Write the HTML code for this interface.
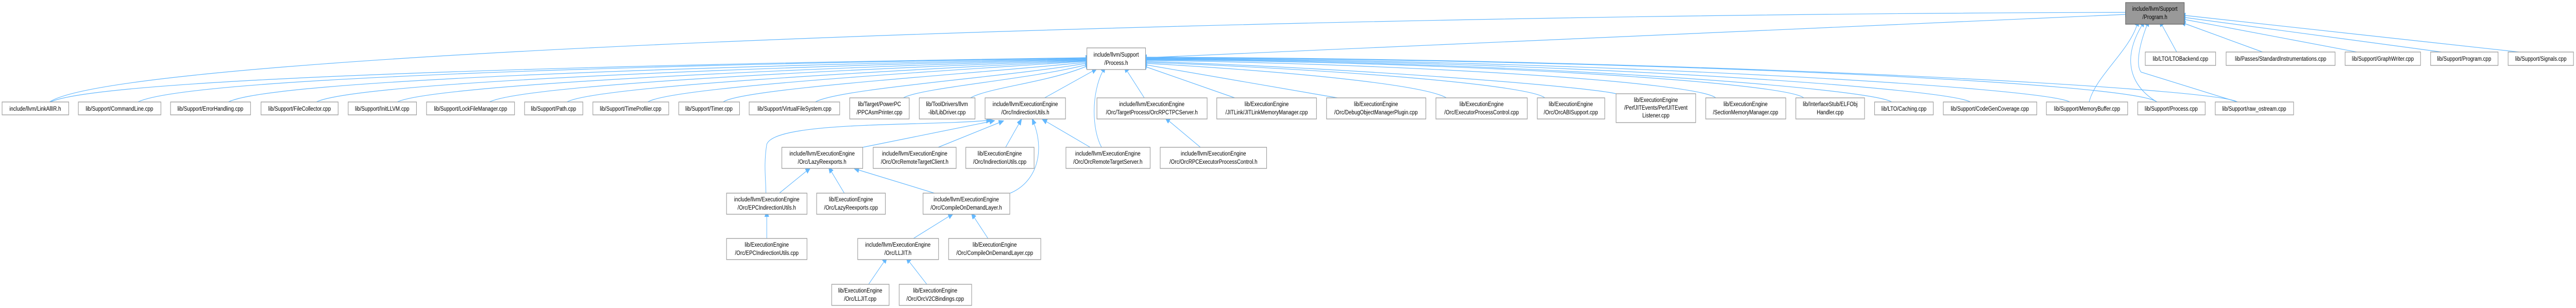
<!DOCTYPE html>
<html><head><meta charset="utf-8"><style>
html,body{margin:0;padding:0;background:#fff;width:100%;height:100%;overflow:hidden;}
svg{display:block;width:100vw;height:100vh;}
text{font-family:"Liberation Sans",Arial,sans-serif;font-size:12px;fill:#000;}
.n{fill:#fff;stroke:#999;stroke-width:1.3;}
.e{fill:none;stroke:#63b8ff;stroke-width:1.2;marker-start:url(#a);}
</style></head><body>
<svg viewBox="0 0 6148 598" preserveAspectRatio="none" xmlns="http://www.w3.org/2000/svg">
<defs><marker id="a" markerUnits="userSpaceOnUse" markerWidth="14" markerHeight="12" refX="1" refY="5" orient="auto-start-reverse"><path d="M0,0 L12,5 L0,10 Z" fill="#63b8ff" stroke="#63b8ff"/></marker></defs>

<path class="e" d="M5073,28 L2736,112"/>
<path class="e" d="M5073,24 C3000,28 300,100 118,198"/>
<path class="e" d="M5100,49 C5080,100 5000,150 4986,198"/>
<path class="e" d="M5112,49 C5060,120 5090,170 5148,198"/>
<path class="e" d="M5124,49 C5100,100 5100,130 5110,140 L5340,198"/>
<path class="e" d="M5160,49 L5195,101"/>
<path class="e" d="M5215,46 L5400,101"/>
<path class="e" d="M5215,38 L5625,101"/>
<path class="e" d="M5215,34 L5827,101"/>
<path class="e" d="M5215,30 L6012,101"/>

<path class="e" d="M2592,112 C1500,125 250,150 120,198"/>
<path class="e" d="M2592,113 C1600,125 450,150 329,198"/>
<path class="e" d="M2592,114 C1700,128 650,155 545,198"/>
<path class="e" d="M2592,115 C1800,130 850,160 755,198"/>
<path class="e" d="M2592,116 C1900,132 1030,165 948,198"/>
<path class="e" d="M2592,117 C2000,135 1250,165 1168,198"/>
<path class="e" d="M2592,118 C2100,138 1420,168 1353,198"/>
<path class="e" d="M2592,119 C2200,140 1600,170 1546,198"/>
<path class="e" d="M2592,121 C2300,145 1770,172 1726,198"/>
<path class="e" d="M2592,123 C2400,150 2000,172 1946,198"/>
<path class="e" d="M2592,126 C2450,155 2200,170 2156,190"/>
<path class="e" d="M2592,129 C2500,160 2360,170 2316,190"/>
<path class="e" d="M2608,138 L2493,190"/>
<path class="e" d="M2632,138 C2605,180 2605,250 2629,286"/>
<path class="e" d="M2690,138 L2731,190"/>
<path class="e" d="M2736,130 L2947,190"/>
<path class="e" d="M2736,126 L3192,190"/>
<path class="e" d="M2736,123 C3100,140 3400,165 3452,190"/>
<path class="e" d="M2736,121 C3200,135 3650,165 3687,190"/>
<path class="e" d="M2736,119 C3300,135 3800,170 3857,182"/>
<path class="e" d="M2736,117 C3400,125 4050,160 4095,190"/>
<path class="e" d="M2736,116 C3500,120 4260,160 4305,190"/>
<path class="e" d="M2736,115 C3600,118 4460,170 4515,198"/>
<path class="e" d="M2736,114 C3700,117 4640,170 4703,198"/>
<path class="e" d="M2736,113 C3800,116 4880,170 4940,198"/>
<path class="e" d="M2736,112 C3900,115 5090,160 5148,198"/>
<path class="e" d="M2736,111 C4000,114 5290,170 5340,198"/>

<path class="e" d="M2363,236 L2059,286"/>
<path class="e" d="M2355,234 C2200,245 1850,235 1830,280 C1822,320 1828,350 1828,375"/>
<path class="e" d="M2385,238 L2239,286"/>
<path class="e" d="M2432,240 L2400,286"/>
<path class="e" d="M2468,240 C2495,300 2470,355 2411,375"/>
<path class="e" d="M2497,236 L2602,286"/>
<path class="e" d="M1925,332 L1860,375"/>
<path class="e" d="M1984,333 L2015,375"/>
<path class="e" d="M2049,330 L2230,375"/>
<path class="e" d="M1830,420 L1830,463"/>
<path class="e" d="M2265,420 L2180,463"/>
<path class="e" d="M2325,422 L2358,463"/>
<path class="e" d="M2110,508 L2073,552"/>
<path class="e" d="M2170,508 L2212,552"/>
<path class="e" d="M2790,235 L2865,286"/>

<rect x="5073" y="5" width="140" height="42" fill="#999" stroke="#666" stroke-width="1.3"/>
<text x="5143" y="21" text-anchor="middle">include/llvm/Support</text><text x="5143" y="37" text-anchor="middle">/Program.h</text>

<rect class="n" x="2594" y="93" width="140" height="42"/>
<text x="2664" y="110" text-anchor="middle">include/llvm/Support</text><text x="2664" y="126" text-anchor="middle">/Process.h</text>

<g text-anchor="middle">
<rect class="n" x="5120" y="101" width="168" height="26"/><text x="5204" y="118">lib/LTO/LTOBackend.cpp</text>
<rect class="n" x="5313" y="101" width="260" height="26"/><text x="5443" y="118">lib/Passes/StandardInstrumentations.cpp</text>
<rect class="n" x="5597" y="101" width="180" height="26"/><text x="5687" y="118">lib/Support/GraphWriter.cpp</text>
<rect class="n" x="5801" y="101" width="161" height="26"/><text x="5881" y="118">lib/Support/Program.cpp</text>
<rect class="n" x="5986" y="101" width="156" height="26"/><text x="6064" y="118">lib/Support/Signals.cpp</text>

<rect class="n" x="5" y="198" width="159" height="25"/><text x="84" y="215">include/llvm/LinkAllIR.h</text>
<rect class="n" x="187" y="198" width="197" height="25"/><text x="285" y="215">lib/Support/CommandLine.cpp</text>
<rect class="n" x="407" y="198" width="191" height="25"/><text x="502" y="215">lib/Support/ErrorHandling.cpp</text>
<rect class="n" x="623" y="198" width="184" height="25"/><text x="715" y="215">lib/Support/FileCollector.cpp</text>
<rect class="n" x="831" y="198" width="163" height="25"/><text x="912" y="215">lib/Support/InitLLVM.cpp</text>
<rect class="n" x="1018" y="198" width="210" height="25"/><text x="1123" y="215">lib/Support/LockFileManager.cpp</text>
<rect class="n" x="1252" y="198" width="139" height="25"/><text x="1321" y="215">lib/Support/Path.cpp</text>
<rect class="n" x="1415" y="198" width="181" height="25"/><text x="1505" y="215">lib/Support/TimeProfiler.cpp</text>
<rect class="n" x="1620" y="198" width="145" height="25"/><text x="1692" y="215">lib/Support/Timer.cpp</text>
<rect class="n" x="1788" y="198" width="216" height="25"/><text x="1896" y="215">lib/Support/VirtualFileSystem.cpp</text>
<rect class="n" x="4474" y="198" width="140" height="25"/><text x="4544" y="215">lib/LTO/Caching.cpp</text>
<rect class="n" x="4638" y="198" width="223" height="25"/><text x="4749" y="215">lib/Support/CodeGenCoverage.cpp</text>
<rect class="n" x="4884" y="198" width="194" height="25"/><text x="4981" y="215">lib/Support/MemoryBuffer.cpp</text>
<rect class="n" x="5102" y="198" width="161" height="25"/><text x="5182" y="215">lib/Support/Process.cpp</text>
<rect class="n" x="5287" y="198" width="187" height="25"/><text x="5380" y="215">lib/Support/raw_ostream.cpp</text>

<rect class="n" x="2028" y="190" width="142" height="41"/><text x="2099" y="206">lib/Target/PowerPC</text><text x="2099" y="222">/PPCAsmPrinter.cpp</text>
<rect class="n" x="2194" y="190" width="133" height="41"/><text x="2260" y="206">lib/ToolDrivers/llvm</text><text x="2260" y="222">-lib/LibDriver.cpp</text>
<rect class="n" x="2351" y="190" width="192" height="41"/><text x="2447" y="206">include/llvm/ExecutionEngine</text><text x="2447" y="222">/Orc/IndirectionUtils.h</text>
<rect class="n" x="2618" y="190" width="263" height="41"/><text x="2749" y="206">include/llvm/ExecutionEngine</text><text x="2749" y="222">/Orc/TargetProcess/OrcRPCTPCServer.h</text>
<rect class="n" x="2904" y="190" width="238" height="41"/><text x="3023" y="206">lib/ExecutionEngine</text><text x="3023" y="222">/JITLink/JITLinkMemoryManager.cpp</text>
<rect class="n" x="3166" y="190" width="237" height="41"/><text x="3284" y="206">lib/ExecutionEngine</text><text x="3284" y="222">/Orc/DebugObjectManagerPlugin.cpp</text>
<rect class="n" x="3427" y="190" width="218" height="41"/><text x="3536" y="206">lib/ExecutionEngine</text><text x="3536" y="222">/Orc/ExecutorProcessControl.cpp</text>
<rect class="n" x="3669" y="190" width="161" height="41"/><text x="3749" y="206">lib/ExecutionEngine</text><text x="3749" y="222">/Orc/OrcABISupport.cpp</text>
<rect class="n" x="3857" y="182" width="190" height="56"/><text x="3952" y="198">lib/ExecutionEngine</text><text x="3952" y="213">/PerfJITEvents/PerfJITEvent</text><text x="3952" y="228">Listener.cpp</text>
<rect class="n" x="4071" y="190" width="191" height="41"/><text x="4166" y="206">lib/ExecutionEngine</text><text x="4166" y="222">/SectionMemoryManager.cpp</text>
<rect class="n" x="4286" y="190" width="164" height="41"/><text x="4368" y="206">lib/InterfaceStub/ELFObj</text><text x="4368" y="222">Handler.cpp</text>

<rect class="n" x="1866" y="286" width="193" height="41"/><text x="1962" y="302">include/llvm/ExecutionEngine</text><text x="1962" y="318">/Orc/LazyReexports.h</text>
<rect class="n" x="2084" y="286" width="198" height="41"/><text x="2183" y="302">include/llvm/ExecutionEngine</text><text x="2183" y="318">/Orc/OrcRemoteTargetClient.h</text>
<rect class="n" x="2305" y="286" width="163" height="41"/><text x="2386" y="302">lib/ExecutionEngine</text><text x="2386" y="318">/Orc/IndirectionUtils.cpp</text>
<rect class="n" x="2544" y="286" width="201" height="41"/><text x="2644" y="302">include/llvm/ExecutionEngine</text><text x="2644" y="318">/Orc/OrcRemoteTargetServer.h</text>
<rect class="n" x="2769" y="286" width="254" height="41"/><text x="2896" y="302">include/llvm/ExecutionEngine</text><text x="2896" y="318">/Orc/OrcRPCExecutorProcessControl.h</text>

<rect class="n" x="1734" y="375" width="192" height="41"/><text x="1830" y="391">include/llvm/ExecutionEngine</text><text x="1830" y="407">/Orc/EPCIndirectionUtils.h</text>
<rect class="n" x="1949" y="375" width="164" height="41"/><text x="2031" y="391">lib/ExecutionEngine</text><text x="2031" y="407">/Orc/LazyReexports.cpp</text>
<rect class="n" x="2203" y="375" width="207" height="41"/><text x="2306" y="391">include/llvm/ExecutionEngine</text><text x="2306" y="407">/Orc/CompileOnDemandLayer.h</text>

<rect class="n" x="1734" y="463" width="192" height="41"/><text x="1830" y="479">lib/ExecutionEngine</text><text x="1830" y="495">/Orc/EPCIndirectionUtils.cpp</text>
<rect class="n" x="2047" y="463" width="193" height="41"/><text x="2143" y="479">include/llvm/ExecutionEngine</text><text x="2143" y="495">/Orc/LLJIT.h</text>
<rect class="n" x="2264" y="463" width="220" height="41"/><text x="2374" y="479">lib/ExecutionEngine</text><text x="2374" y="495">/Orc/CompileOnDemandLayer.cpp</text>

<rect class="n" x="1985" y="552" width="137" height="41"/><text x="2053" y="568">lib/ExecutionEngine</text><text x="2053" y="584">/Orc/LLJIT.cpp</text>
<rect class="n" x="2146" y="552" width="173" height="41"/><text x="2232" y="568">lib/ExecutionEngine</text><text x="2232" y="584">/Orc/OrcV2CBindings.cpp</text>
</g>
</svg>
</body></html>
